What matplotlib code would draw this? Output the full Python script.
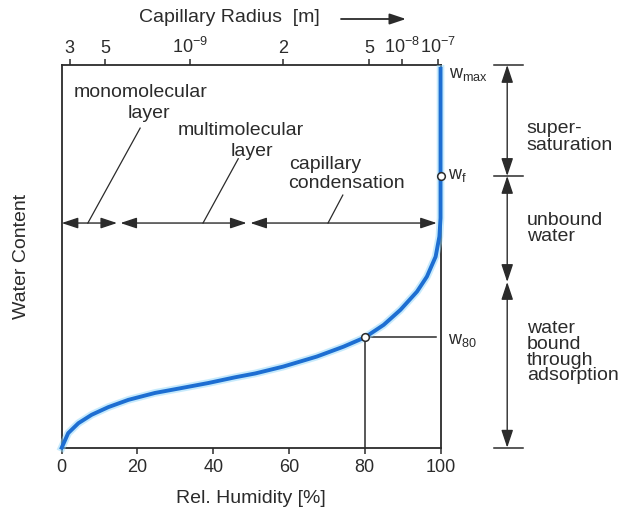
import numpy as np
import matplotlib.pyplot as plt

plt.rcParams['font.family'] = ['Liberation Sans', 'DejaVu Sans']
plt.rcParams['mathtext.fontset'] = 'custom'
plt.rcParams['mathtext.rm'] = 'Liberation Sans'
plt.rcParams['mathtext.it'] = 'Liberation Sans'

INK = '#2b2b2b'
BLUE = '#1d6ed2'
GLOW = '#8fd6fa'

# sorption isotherm: relative humidity [%] vs. relative water content
rel_humidity = [0, 1.7, 4.4, 7.9, 12.3, 17.6, 24.6, 31.7, 38.7, 45.8, 51.1,
                58.5, 67.3, 74.4, 80.0, 85.0, 89.4, 93.8, 96.4, 98.7, 99.7,
                100.0, 100.0]
water_content = [0, 0.038, 0.064, 0.086, 0.106, 0.125, 0.143, 0.156, 0.169,
                 0.184, 0.194, 0.212, 0.238, 0.264, 0.288, 0.321, 0.360,
                 0.408, 0.447, 0.499, 0.552, 0.600, 0.990]

humidity_ticks = [0, 20, 40, 60, 80, 100]
radius_tick_pos = [2.1, 11.4, 33.9, 58.5, 81.2, 89.9, 99.2]
radius_tick_labels = ['3', '5', r'$10^{-9}$', '2', '5', r'$10^{-8}$', r'$10^{-7}$']

w_max = 0.99
w_f = 0.71
rh_80 = 80
w_80 = 0.288
bound_limit = 0.433

# ranges of the adsorption mechanisms along the humidity axis
regime_row = 0.587
regime_spans = [(0, 14.6), (15.5, 48.8), (49.8, 99.0)]


def dim_arrow(ax, p0, p1, scale=12):
    ax.annotate('', xy=p1, xytext=p0, annotation_clip=False,
                arrowprops=dict(arrowstyle='<|-|>,head_length=0.9,head_width=0.3',
                                color=INK, lw=1.0, shrinkA=0, shrinkB=0,
                                mutation_scale=scale))


fig = plt.figure(figsize=(6.21, 5.12), dpi=100)
ax = fig.add_axes([0.0994, 0.1256, 0.610, 0.7475])
ax.set_xlim(0, 100)
ax.set_ylim(0, 1)

for sp in ax.spines.values():
    sp.set_color(INK)
    sp.set_linewidth(1.3)

ax.set_yticks([])
ax.set_xticks(humidity_ticks)
ax.tick_params(axis='x', direction='out', length=4, width=1.1, color=INK,
               labelsize=13, labelcolor=INK, pad=4)

top = ax.secondary_xaxis('top')
top.set_xticks(radius_tick_pos, radius_tick_labels)
top.tick_params(direction='out', length=4, width=1.1, color=INK,
                labelsize=13, labelcolor=INK, pad=2)
top.spines['top'].set_visible(False)

# isotherm with a soft halo
ax.plot(rel_humidity, water_content, color=GLOW, lw=5.5, alpha=0.5,
        solid_joinstyle='round', clip_on=False, zorder=3)
ax.plot(rel_humidity, water_content, color=BLUE, lw=2.8,
        solid_joinstyle='round', clip_on=False, zorder=4)

# w80 guide lines
ax.plot([rh_80, rh_80], [0, w_80], color=INK, lw=1.1, zorder=2)
ax.plot([rh_80, 98.9], [w_80, w_80], color=INK, lw=1.1, zorder=2)
ax.plot([rh_80, 100], [w_80, w_f], 'o', ms=5.5, mfc='white', mec=INK,
        mew=1.1, zorder=6, clip_on=False)

# adsorption regimes
for a, b in regime_spans:
    dim_arrow(ax, (a, regime_row), (b, regime_row), scale=11)

ax.text(20.7, 0.929, 'monomolecular', ha='center', va='center', fontsize=14, color=INK)
ax.text(23.0, 0.872, 'layer', ha='center', va='center', fontsize=14, color=INK)
ax.text(47.3, 0.830, 'multimolecular', ha='center', va='center', fontsize=14, color=INK)
ax.text(50.2, 0.775, 'layer', ha='center', va='center', fontsize=14, color=INK)
ax.text(69.5, 0.741, 'capillary', ha='center', va='center', fontsize=14, color=INK)
ax.text(75.1, 0.689, 'condensation', ha='center', va='center', fontsize=14, color=INK)

ax.plot([6.9, 20.7], [regime_row, 0.835], color=INK, lw=0.9)
ax.plot([37.3, 46.6], [regime_row, 0.755], color=INK, lw=0.9)
ax.plot([70.3, 74.2], [regime_row, 0.660], color=INK, lw=0.9)

# moisture content marks at the right edge
ax.text(102.3, 0.974, r'w$_{max}$', ha='left', va='center', fontsize=13, color=INK)
ax.text(102.0, w_f, r'w$_{f}$', ha='left', va='center', fontsize=13, color=INK)
ax.text(102.0, 0.279, r'w$_{80}$', ha='left', va='center', fontsize=13, color=INK)

# dimension line for the moisture regions
x_dim = 117.6
for y in [1.0, w_f, 0.0]:
    ax.plot([114.0, 121.7], [y, y], color=INK, lw=1.1, clip_on=False)
dim_arrow(ax, (x_dim, w_f), (x_dim, 1.0))
dim_arrow(ax, (x_dim, bound_limit), (x_dim, w_f))
dim_arrow(ax, (x_dim, 0.0), (x_dim, bound_limit))

ax.text(122.8, 0.812, 'super-\nsaturation', ha='left', va='center',
        fontsize=14, color=INK, linespacing=1.0)
ax.text(122.8, 0.572, 'unbound\nwater', ha='left', va='center',
        fontsize=14, color=INK, linespacing=0.95)
ax.text(122.8, 0.249, 'water\nbound\nthrough\nadsorption', ha='left', va='center',
        fontsize=14, color=INK, linespacing=0.9)

# axis titles
ax.text(0.5, -0.132, 'Rel. Humidity [%]', transform=ax.transAxes,
        ha='center', va='center', fontsize=14, color=INK)
ax.text(-0.105, 0.5, 'Water Content', transform=ax.transAxes, rotation=90,
        ha='center', va='center', fontsize=14, color=INK)
fig.text(229 / 621, 1 - 18 / 512, 'Capillary Radius  [m]', ha='center',
         va='center', fontsize=14, color=INK)
ax.annotate('', xy=(406 / 621, 1 - 19 / 512), xytext=(341 / 621, 1 - 19 / 512),
            xycoords='figure fraction', textcoords='figure fraction',
            arrowprops=dict(arrowstyle='-|>,head_length=0.9,head_width=0.3',
                            color=INK, lw=1.3, shrinkA=0, shrinkB=0,
                            mutation_scale=11))

fig.savefig('out.png', dpi=100)
